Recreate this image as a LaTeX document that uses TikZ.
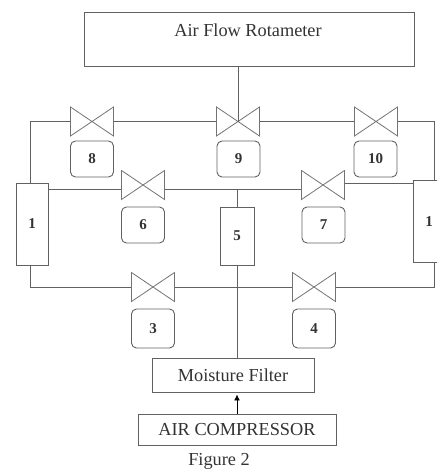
\documentclass[tikz,border=0pt]{standalone}
\usepackage{fontspec}
\setmainfont{Liberation Serif}
\usetikzlibrary{arrows.meta}

\begin{document}
\begin{tikzpicture}[x=1pt,y=-1pt,
   line width=.9pt,
   pipe/.style={draw=black!62},
   box/.style={draw=black!62,fill=white,inner sep=0pt,font=\fontsize{18.3}{20}\selectfont,text=black!80},
   tank/.style={box,minimum width=32pt,minimum height=82pt,font=\fontsize{15}{17}\bfseries\selectfont},
   tag/.style={box,rounded corners=5pt,minimum width=43pt,minimum height=36pt,font=\fontsize{15}{17}\bfseries\selectfont},
   valve/.style={inner sep=0pt,minimum width=44pt,minimum height=30pt,
      path picture={\draw[black!55,line width=.8pt]
         ([shift={(.5pt,.5pt)}]path picture bounding box.south west)
         -- ([shift={(-.5pt,-.5pt)}]path picture bounding box.north east)
         -- ([shift={(-.5pt,.5pt)}]path picture bounding box.south east)
         -- ([shift={(.5pt,-.5pt)}]path picture bounding box.north west) -- cycle;}}]
   \useasboundingbox (0,0) rectangle (437,471);
   \clip (0,0) rectangle (437,471);
   % top and bottom boxes
   \node[box,minimum width=330pt,minimum height=54pt] (rota) at (249,39) {};
   \node[font=\fontsize{18.3}{20}\selectfont,text=black!80] (rotatext) at (248,30) {Air Flow Rotameter};
   \node[box,minimum width=162pt,minimum height=34pt] (filter) at (233,375) {Moisture Filter};
   \node[box,minimum width=198pt,minimum height=31pt] (comp) at (237,429.5) {AIR COMPRESSOR};
   % tanks
   \node[tank] (tankl) at (32,224) {1};
   \node[tank] (tankr) at (429,221.5) {1};
   \node[tank,minimum width=34pt,minimum height=58pt] (tankm) at (237,236) {5};
   % valves
   \node[valve] (v8) at (92,121.5) {};
   \node[valve] (v9) at (238,121.5) {};
   \node[valve] (v10) at (376,121.5) {};
   \node[valve] (v6) at (143,185) {};
   \node[valve] (v7) at (323,185) {};
   \node[valve] (v3) at (153,287) {};
   \node[valve] (v4) at (314,287) {};
   % tags
   \node[tag] (t8) at (92,159) {8};
   \node[tag] (t9) at (238.5,159) {9};
   \node[tag] (t10) at (375.5,159) {10};
   \node[tag] (t6) at (143,225) {6};
   \node[tag] (t7) at (323.5,225) {7};
   \node[tag,minimum height=39pt] (t3) at (153,328.5) {3};
   \node[tag,minimum height=39pt] (t4) at (314,328.5) {4};
   % pipe ends
   \coordinate (jl) at (48,189);
   \coordinate (jm) at (237,189);
   \coordinate (jr) at (413,183);
   % pipes
   \draw[pipe] (rota.south -| v9.center) -- (v9.center);
   \draw[pipe] ([xshift=-2pt]tankl.north) |- (v8.west);
   \draw[pipe] (v8.east) -- (v9.west);
   \draw[pipe] (v9.east) -- (v10.west);
   \draw[pipe] (v10.east) -| ([xshift=5pt]tankr.north);
   \draw[pipe] (jl) -- (jl -| v6.west);
   \draw[pipe] (jl -| v6.east) -- (jl -| v7.west);
   \draw[pipe] (jr -| v7.east) -- (jr);
   \draw[pipe] (tankm.north) -- (jm);
   \draw[pipe] ([xshift=-2pt]tankl.south) |- (v3.west);
   \draw[pipe] (v3.east) -- (v4.west);
   \draw[pipe] (v4.east) -| ([xshift=5pt]tankr.south);
   \draw[pipe] (tankm.south) -- (tankm.south |- filter.north);
   \draw[pipe,-{Latex[length=6pt,width=6pt]},shorten >=2pt,black] (comp.north -| tankm.south) -- (filter.south -| tankm.south);
   % caption
   \node[font=\fontsize{18.3}{20}\selectfont,text=black!80] (caption) at (219,461) {Figure 2};
\end{tikzpicture}
\end{document}
